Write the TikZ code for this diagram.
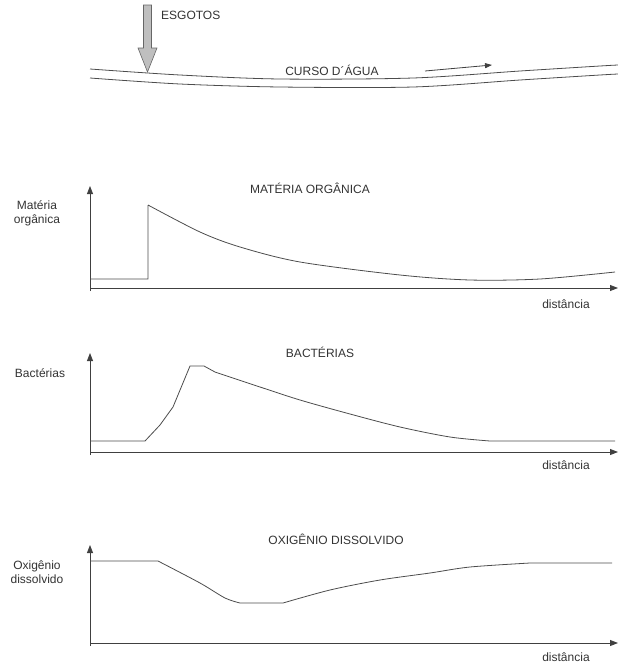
\documentclass[tikz,border=0pt]{standalone}
\usepackage{fontspec}
\setmainfont{Liberation Sans}
\usetikzlibrary{arrows.meta,positioning}

\begin{document}
\begin{tikzpicture}[x=1pt,y=-1pt,
      axis/.style={draw=black!75, line width=0.9pt, -{Triangle[length=8pt,width=6pt]}},
      curve/.style={draw=black!70, line width=0.8pt},
      txt/.style={font=\fontsize{12}{14}\selectfont, text=black!80, inner sep=1pt},
      ylabel/.style={txt, align=center}]
    \useasboundingbox (0,0) rectangle (618,664);

    % river and sewage inflow
    \draw[curve] plot[smooth] coordinates {(90,69) (180,75) (280,79) (413,78) (520,71) (600,66) (618,65)};
    \draw[curve] plot[smooth] coordinates {(90,78) (180,84) (280,87) (413,87) (520,80) (600,75) (618,74)};
    \draw[draw=black!60, fill=black!25, line width=0.6pt]
      (143.5,5) -- (151.5,5) -- (151.5,48) -- (157,48) -- (147.5,72) -- (138,48) -- (143.5,48) -- cycle;
    \node[txt, anchor=west] (esgotos) at (160,15) {ESGOTOS};
    \node[txt] (curso) at (332,70) {CURSO D´ÁGUA};
    \coordinate (flowA) at (425,71);
    \coordinate (flowB) at (492,65);
    \draw[draw=black!75, line width=0.8pt, -{Triangle[length=7pt,width=5pt]}] (flowA) -- (flowB);

    % organic matter
    \coordinate (mo0) at (90,291);
    \coordinate (moY) at (90,186);
    \coordinate (moX0) at (90,288);
    \coordinate (moX) at (618,288);
    \draw[axis] (mo0) -- (moY);
    \draw[axis] (moX0) -- (moX);
    \draw[curve] (90,279) -- (148,279) -- (148,205)
      plot[smooth] coordinates {(148,205) (200,232) (240,247) (300,262) (400,275) (470,280) (540,279) (615,272)};
    \node[txt] (moTitle) at (310,188) {MATÉRIA ORGÂNICA};
    \node[ylabel] (moLabel) at (37,213) {Matéria\\orgânica};
    \node[txt] (moDist) at (566,304) {distância};

    % bacteria
    \coordinate (ba0) at (90,455);
    \coordinate (baY) at (90,353);
    \coordinate (baX0) at (90,452);
    \coordinate (baX) at (618,452);
    \draw[axis] (ba0) -- (baY);
    \draw[axis] (baX0) -- (baX);
    \draw[curve] (90,441) -- (145,441) -- (160,425) -- (173,407) -- (190,366) -- (204,366) -- (215,372)
      plot[smooth] coordinates {(215,372) (260,387) (300,400) (350,414) (400,427) (450,437) (490,441)} -- (615,441);
    \node[txt] (baTitle) at (320,352) {BACTÉRIAS};
    \node[ylabel] (baLabel) at (40,373) {Bactérias};
    \node[txt] (baDist) at (566,465) {distância};

    % dissolved oxygen
    \coordinate (od0) at (90,646);
    \coordinate (odY) at (90,545);
    \coordinate (odX0) at (90,643);
    \coordinate (odX) at (618,643);
    \draw[axis] (od0) -- (odY);
    \draw[axis] (odX0) -- (odX);
    \draw[curve] (90,561) -- (158,561)
      plot[smooth] coordinates {(158,561) (200,583) (225,598) (240,603)} -- (283,603)
      plot[smooth] coordinates {(283,603) (330,590) (380,580) (430,573) (470,567) (530,563)} -- (612,563);
    \node[txt] (odTitle) at (336,539) {OXIGÊNIO DISSOLVIDO};
    \node[ylabel] (odLabel) at (37,572) {Oxigênio\\dissolvido};
    \node[txt] (odDist) at (566,657) {distância};
\end{tikzpicture}
\end{document}
